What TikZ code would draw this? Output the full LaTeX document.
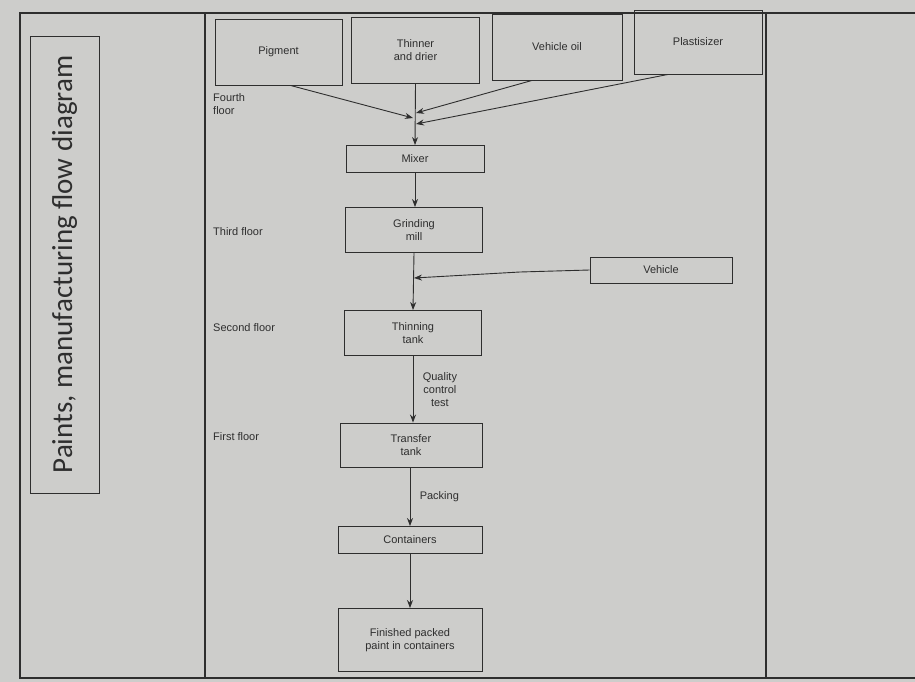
\documentclass[tikz,border=0pt]{standalone}
\usepackage{fontspec}
\setmainfont{Liberation Sans}
\newfontfamily\titlefont{Carlito}
\usetikzlibrary{arrows.meta}
\definecolor{paper}{HTML}{CDCDCB}
\definecolor{ink}{HTML}{2E2E2E}
\begin{document}
\begin{tikzpicture}[x=1pt,y=-1pt,
  box/.style={draw=ink,line width=0.9pt,align=center,inner sep=1pt,font=\fontsize{11}{13}\selectfont,text=ink},
  lbl/.style={align=left,anchor=west,inner sep=0pt,font=\fontsize{11}{13}\selectfont,text=ink},
  flow/.style={draw=ink,line width=0.9pt,-{Stealth[length=8pt,width=6pt]}},
  frame/.style={draw=ink,line width=1.1pt}]
\fill[paper] (0,0) rectangle (915,682);
\useasboundingbox (0,0) rectangle (915,682);
% frames
\draw[frame] (915,13) -- (20,13) -- (20,678) -- (915,678);
\draw[frame] (205,13) -- (205,678);
\draw[frame] (766,13) -- (766,678);
\node[draw=ink,line width=0.9pt,minimum width=457pt,minimum height=69pt,rotate=90,
  font=\titlefont\fontsize{29}{32}\selectfont,text=ink] (title) at (64.5,264.5) {Paints, manufacturing flow diagram};
% input boxes
\node[box,minimum width=127pt,minimum height=66pt] (pig) at (278.5,52) {Pigment};
\node[box,minimum width=128pt,minimum height=66pt] (thin) at (415.5,50) {Thinner\\and drier};
\node[box,minimum width=130pt,minimum height=66pt] (voil) at (557,47) {Vehicle oil};
\node[box,minimum width=128pt,minimum height=64pt] (plast) at (698,42) {Plastisizer};
% main column
\node[box,minimum width=138pt,minimum height=27pt] (mixer) at (415,159) {Mixer};
\node[box,minimum width=137pt,minimum height=45pt] (grind) at (414,230) {Grinding\\mill};
\node[box,minimum width=142pt,minimum height=26pt] (veh) at (661,270) {Vehicle};
\node[box,minimum width=137pt,minimum height=45pt] (thtank) at (413,333) {Thinning\\tank};
\node[box,minimum width=142pt,minimum height=44pt] (trtank) at (411,445) {Transfer\\tank};
\node[box,minimum width=144pt,minimum height=27pt] (cont) at (410,540) {Containers};
\node[box,minimum width=144pt,minimum height=63pt] (fin) at (410,640) {Finished packed\\paint in containers};
% floor labels
\node[lbl] (f4) at (213,104) {Fourth\\floor};
\node[lbl] (f3) at (213,232) {Third floor};
\node[lbl] (f2) at (213,328) {Second floor};
\node[lbl] (f1) at (213,437) {First floor};
% junction coordinates
\coordinate (jp) at (413,118);
\coordinate (jv) at (416,113);
\coordinate (jq) at (416,124);
\coordinate (jveh) at (414,278);
% connectors
\draw[flow] (pig.south)++(12,0) -- (jp);
\draw[flow] (voil.south)++(-25,0) -- (jv);
\draw[flow] (plast.south)++(-30,0) -- (jq);
\draw[flow] (thin.south) -- (mixer.north);
\draw[flow] (mixer.south) -- (grind.north -| mixer.south);
\draw[flow] (grind.south) -- (thtank.north);
\draw[flow] (veh.west) -- (520,272) -- (jveh);
\draw[flow] (thtank.south) -- node[right=6pt,align=center,font=\fontsize{11}{13}\selectfont,text=ink] (qc) {Quality\\control\\test} (thtank.south |- trtank.north);
\draw[flow] (trtank.south -| cont.north) -- node[right=6pt,font=\fontsize{11}{13}\selectfont,text=ink] (pack) {Packing} (cont.north);
\draw[flow] (cont.south) -- (fin.north);
\end{tikzpicture}
\end{document}
